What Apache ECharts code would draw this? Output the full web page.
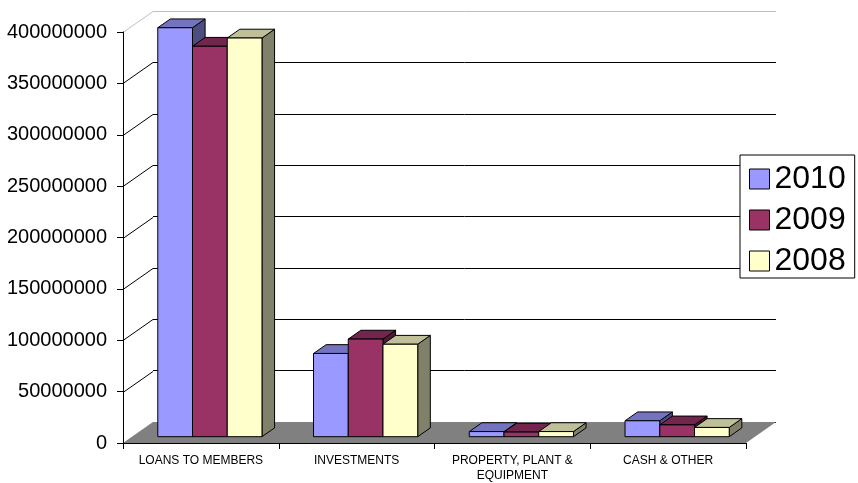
<!DOCTYPE html>
<html>
<head>
<meta charset="utf-8">
<script src="https://cdn.jsdelivr.net/npm/echarts@6/dist/echarts.min.js"></script>
<style>
  html, body { margin: 0; padding: 0; background: #fff; }
  #chart { width: 858px; height: 483px; }
</style>
</head>
<body>
<div id="chart"></div>
<script>
// Asset categories and yearly balances
const categories = ['LOANS TO MEMBERS', 'INVESTMENTS', 'PROPERTY, PLANT &\nEQUIPMENT', 'CASH & OTHER'];
const seriesNames = ['2010', '2009', '2008'];
const values2010 = [398000000, 81000000, 5000000, 15500000];
const values2009 = [380000000, 95000000, 4500000, 11500000];
const values2008 = [388000000, 90000000, 5000000, 9000000];
const Y_MIN = 0;
const Y_MAX = 400000000;
const Y_STEP = 50000000;

// Face shading for the pseudo-3D boxes (front / top / right side)
const faceColors = [
  { front: '#9999FF', top: '#7373BF', side: '#4D4D80' },
  { front: '#993366', top: '#73264D', side: '#4D1A33' },
  { front: '#FFFFCC', top: '#BFBF99', side: '#80806B' }
];

// Oblique projection of the depth axis, in pixels
const DEPTH_X = 30;
const DEPTH_Y = -21;
const BAR_NEAR = 0.3;
const BAR_FAR = 0.72;
const BAR_FRAC = 0.223;

const FONT = '"Liberation Sans", Arial, sans-serif';
const GRID = { left: 123, top: 32, width: 623, height: 411 };

const outline = { stroke: '#000', lineWidth: 1, lineJoin: 'miter' };

function barRenderer(k) {
  return function (params, api) {
    const cat = api.value(0);
    const v = api.value(1);
    const base = api.coord([cat, 0]);
    const top = api.coord([cat, v]);
    const band = api.size([1, 0])[0];
    const bw = band * BAR_FRAC;
    const nx = BAR_NEAR * DEPTH_X, ny = BAR_NEAR * DEPTH_Y;
    const dx = (BAR_FAR - BAR_NEAR) * DEPTH_X, dy = (BAR_FAR - BAR_NEAR) * DEPTH_Y;
    const x0 = base[0] - 1.5 * bw + k * bw + nx;
    const x1 = x0 + bw;
    const yb = base[1] + ny;
    const yt = top[1] + ny;
    const c = faceColors[k];
    return {
      type: 'group',
      children: [
        { type: 'polygon', shape: { points: [[x1, yt], [x1 + dx, yt + dy], [x1 + dx, yb + dy], [x1, yb]] },
          style: Object.assign({ fill: c.side }, outline) },
        { type: 'polygon', shape: { points: [[x0, yt], [x1, yt], [x1 + dx, yt + dy], [x0 + dx, yt + dy]] },
          style: Object.assign({ fill: c.top }, outline) },
        { type: 'rect', shape: { x: x0, y: yt, width: bw, height: yb - yt },
          style: Object.assign({ fill: c.front }, outline) }
      ]
    };
  };
}

// Floor plane and left-wall gridlines
function frameRenderer(params, api) {
  const cs = params.coordSys;
  const yb = cs.y + cs.height;
  const children = [
    { type: 'polygon',
      shape: { points: [[cs.x, yb], [cs.x + cs.width, yb], [cs.x + cs.width + DEPTH_X, yb + DEPTH_Y], [cs.x + DEPTH_X, yb + DEPTH_Y]] },
      style: { fill: '#808080', stroke: '#808080', lineWidth: 0 } }
  ];
  for (let v = Y_MIN + Y_STEP; v <= Y_MAX; v += Y_STEP) {
    const y = Math.round(api.coord([0, v])[1]) + 0.5;
    children.push({
      type: 'line',
      shape: { x1: cs.x, y1: y, x2: cs.x + DEPTH_X, y2: y + DEPTH_Y },
      style: { stroke: v === Y_MAX ? '#c0c0c0' : '#000', lineWidth: 1 }
    });
  }
  return { type: 'group', children: children };
}

const backLineColors = ['#000', '#000', '#000', '#000', '#000', '#000', '#000', '#000', '#c0c0c0'];
const seriesValues = [values2010, values2009, values2008];

const option = {
  animation: false,
  backgroundColor: '#fff',
  textStyle: { fontFamily: FONT },
  grid: [
    { left: GRID.left, top: GRID.top, width: GRID.width, height: GRID.height },
    { left: GRID.left + DEPTH_X, top: GRID.top + DEPTH_Y, width: GRID.width, height: GRID.height }
  ],
  legend: {
    data: seriesNames,
    orient: 'vertical',
    left: 740,
    top: 155,
    padding: [8, 9, 1, 9],
    itemGap: 9,
    itemWidth: 20,
    itemHeight: 20,
    icon: 'rect',
    backgroundColor: '#fff',
    borderColor: '#000',
    borderWidth: 1,
    z: 10,
    itemStyle: { borderColor: '#000', borderWidth: 1 },
    textStyle: { fontSize: 32, color: '#000', fontFamily: FONT }
  },
  xAxis: [
    {
      type: 'category', gridIndex: 0, data: categories, z: 5,
      axisLine: { lineStyle: { color: '#000', width: 1 } },
      axisTick: { show: true, length: 6, lineStyle: { color: '#000' } },
      axisLabel: { interval: 0, fontSize: 12, lineHeight: 15, margin: 10, color: '#000', fontFamily: FONT },
      splitLine: { show: false }
    },
    { type: 'category', gridIndex: 1, data: categories, show: false }
  ],
  yAxis: [
    {
      type: 'value', gridIndex: 0, min: Y_MIN, max: Y_MAX, interval: Y_STEP, z: 5,
      axisLine: { show: true, lineStyle: { color: '#000', width: 1 } },
      axisTick: { show: true, length: 6, lineStyle: { color: '#000' } },
      axisLabel: { fontSize: 20, margin: 16, color: '#000', fontFamily: FONT, formatter: v => String(v) },
      splitLine: { show: false }
    },
    {
      type: 'value', gridIndex: 1, min: Y_MIN, max: Y_MAX, interval: Y_STEP, z: 0,
      axisLine: { show: false }, axisTick: { show: false }, axisLabel: { show: false },
      splitLine: { show: true, lineStyle: { color: backLineColors, width: 1 } }
    }
  ],
  series: [
    {
      type: 'custom', name: 'frame', xAxisIndex: 0, yAxisIndex: 0, z: 1, silent: true,
      data: [[0, 0]], renderItem: frameRenderer
    }
  ].concat(seriesNames.map((name, k) => ({
    type: 'custom', name: name, xAxisIndex: 0, yAxisIndex: 0, z: 2,
    itemStyle: { color: faceColors[k].front },
    data: seriesValues[k].map((v, i) => [i, v]),
    renderItem: barRenderer(k)
  })))
};

const chart = echarts.init(document.getElementById('chart'), null, { renderer: 'canvas' });
chart.setOption(option);
</script>
</body>
</html>
